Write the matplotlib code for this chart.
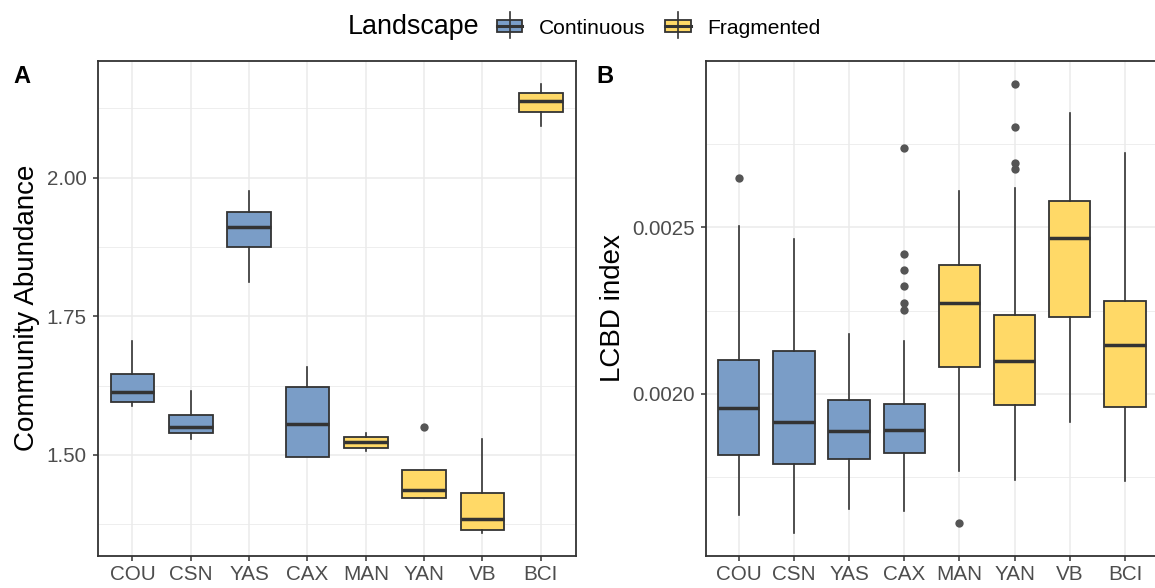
import matplotlib
matplotlib.use("Agg")
import matplotlib.pyplot as plt
from matplotlib.patches import Rectangle
from matplotlib.lines import Line2D

plt.rcParams['font.family'] = ['Liberation Sans', 'DejaVu Sans']

# ---------------- data ----------------
sites = ["COU", "CSN", "YAS", "CAX", "MAN", "YAN", "VB", "BCI"]
landscape = ["Continuous", "Continuous", "Continuous", "Continuous",
             "Fragmented", "Fragmented", "Fragmented", "Fragmented"]

# Panel A: Community Abundance
a_whislo = [1.5885, 1.5278, 1.8113, 1.4969, 1.5062, 1.4220, 1.3589, 2.0928]
a_q1     = [1.5947, 1.5396, 1.8756, 1.4969, 1.5124, 1.4220, 1.3639, 2.1182]
a_med    = [1.6139, 1.5507, 1.9115, 1.5563, 1.5241, 1.4369, 1.3837, 2.1392]
a_q3     = [1.6454, 1.5724, 1.9381, 1.6219, 1.5322, 1.4722, 1.4319, 2.1535]
a_whishi = [1.7054, 1.6157, 1.9765, 1.6578, 1.5402, 1.4722, 1.5278, 2.1696]
a_fliers = [[], [], [], [], [], [1.5495], [], []]

# Panel B: LCBD index
b_whislo = [0.001636, 0.001581, 0.001652, 0.001648, 0.001769, 0.001741, 0.001915, 0.001739]
b_q1     = [0.001816, 0.001788, 0.001804, 0.001821, 0.002079, 0.001966, 0.002230, 0.001961]
b_med    = [0.001956, 0.001914, 0.001887, 0.001890, 0.002273, 0.002098, 0.002469, 0.002147]
b_q3     = [0.002100, 0.002129, 0.001982, 0.001970, 0.002387, 0.002238, 0.002579, 0.002278]
b_whishi = [0.002505, 0.002464, 0.002179, 0.002159, 0.002610, 0.002619, 0.002844, 0.002724]
b_fliers = [[0.002650], [], [],
            [0.002738, 0.002421, 0.002371, 0.002325, 0.002272, 0.002253],
            [0.001611],
            [0.002931, 0.002801, 0.002693, 0.002675],
            [], []]

a_yticks = [1.50, 1.75, 2.00]
a_yticklabels = ["1.50", "1.75", "2.00"]
a_yminor = [1.375, 1.625, 1.875, 2.125]
b_yticks = [0.0020, 0.0025]
b_yticklabels = ["0.0020", "0.0025"]
b_yminor = [0.00175, 0.00225, 0.00275]

colors = {"Continuous": "#7A9DC7", "Fragmented": "#FFD967"}
edge = "#333333"
grid_c = "#EBEBEB"
tick_c = "#4D4D4D"

W, H = 1155, 588
fig = plt.figure(figsize=(W / 100, H / 100), dpi=100)


def fx(x):
    return x / W


def fy(y):
    return 1 - y / H


B_RIGHT = 1158
axA = fig.add_axes([fx(97.5), fy(556), (575.7 - 97.5) / W, (556 - 60.5) / H])
axB = fig.add_axes([fx(705.7), fy(556), (B_RIGHT - 705.7) / W, (556 - 60.5) / H])


def draw_panel(ax, whislo, q1, med, q3, whishi, fliers, ylim, yt, ytl, ymin, ylabel):
    stats = []
    for i in range(len(sites)):
        stats.append(dict(whislo=whislo[i], q1=q1[i], med=med[i], q3=q3[i],
                          whishi=whishi[i], fliers=fliers[i]))
    positions = list(range(len(sites)))
    bp = ax.bxp(stats, positions=positions, widths=0.75, patch_artist=True,
                showcaps=False,
                boxprops=dict(edgecolor=edge, linewidth=1.3),
                medianprops=dict(color=edge, linewidth=2.5, solid_capstyle='butt'),
                whiskerprops=dict(color=edge, linewidth=1.2),
                flierprops=dict(marker='o', markerfacecolor='#555555',
                                markeredgecolor='none', markersize=6))
    for patch, land in zip(bp['boxes'], landscape):
        patch.set_facecolor(colors[land])
    for ln in bp['medians']:
        ln.set_zorder(4)
    ax.set_xlim(-0.6, len(sites) - 1 + 0.6)
    ax.set_ylim(*ylim)
    ax.set_xticks(positions)
    ax.set_xticklabels(sites)
    ax.set_yticks(yt)
    ax.set_yticklabels(ytl)
    ax.set_yticks(ymin, minor=True)
    ax.set_axisbelow(True)
    ax.grid(which='major', axis='both', color=grid_c, linewidth=1.1)
    ax.grid(which='minor', axis='y', color=grid_c, linewidth=0.6)
    ax.tick_params(which='major', direction='out', length=3.6, width=1.1,
                   color=edge, labelcolor=tick_c, labelsize=14.9)
    ax.tick_params(axis='y', which='major', pad=4.3)
    ax.tick_params(axis='x', which='major', pad=3)
    ax.tick_params(which='minor', length=0)
    for sp in ax.spines.values():
        sp.set_color(edge)
        sp.set_linewidth(1.3)
    ax.set_ylabel(ylabel, fontsize=20, color='black')


draw_panel(axA, a_whislo, a_q1, a_med, a_q3, a_whishi, a_fliers,
           (1.3175, 2.2116), a_yticks, a_yticklabels, a_yminor, "Community Abundance")
draw_panel(axB, b_whislo, b_q1, b_med, b_q3, b_whishi, b_fliers,
           (0.001512, 0.003002), b_yticks, b_yticklabels, b_yminor, "LCBD index")
axB.spines['right'].set_visible(False)

axA.yaxis.set_label_coords((40 - 97.5) / (575.7 - 97.5), 0.5)
axB.yaxis.set_label_coords((626 - 705.7) / (B_RIGHT - 705.7), 0.5)

# panel tags
fig.text(fx(13), fy(83.3), "A", fontsize=17, fontweight='bold', va='baseline', ha='left')
fig.text(fx(596), fy(83.3), "B", fontsize=17, fontweight='bold', va='baseline', ha='left')

# legend
base = fy(34.3)
fig.text(fx(347.5), base, "Landscape", fontsize=19.4, va='baseline', ha='left')
legend_items = [("Continuous", 496.7, 539), ("Fragmented", 665, 707.7)]
for land, kx, tx in legend_items:
    kw = 25.6
    cx = kx + kw / 2
    fig.add_artist(Line2D([fx(cx), fx(cx)], [fy(11.7), fy(38.3)],
                          color=edge, linewidth=1.2, transform=fig.transFigure))
    fig.add_artist(Rectangle((fx(kx), fy(32.3)), kw / W, 12.3 / H,
                             facecolor=colors[land], edgecolor=edge, linewidth=1.3,
                             transform=fig.transFigure))
    fig.add_artist(Line2D([fx(kx), fx(kx + kw)], [fy(26.2), fy(26.2)],
                          color=edge, linewidth=2.2, transform=fig.transFigure))
    fig.text(fx(tx), base, land, fontsize=15.1, va='baseline', ha='left')

fig.savefig("out.png", dpi=100)
